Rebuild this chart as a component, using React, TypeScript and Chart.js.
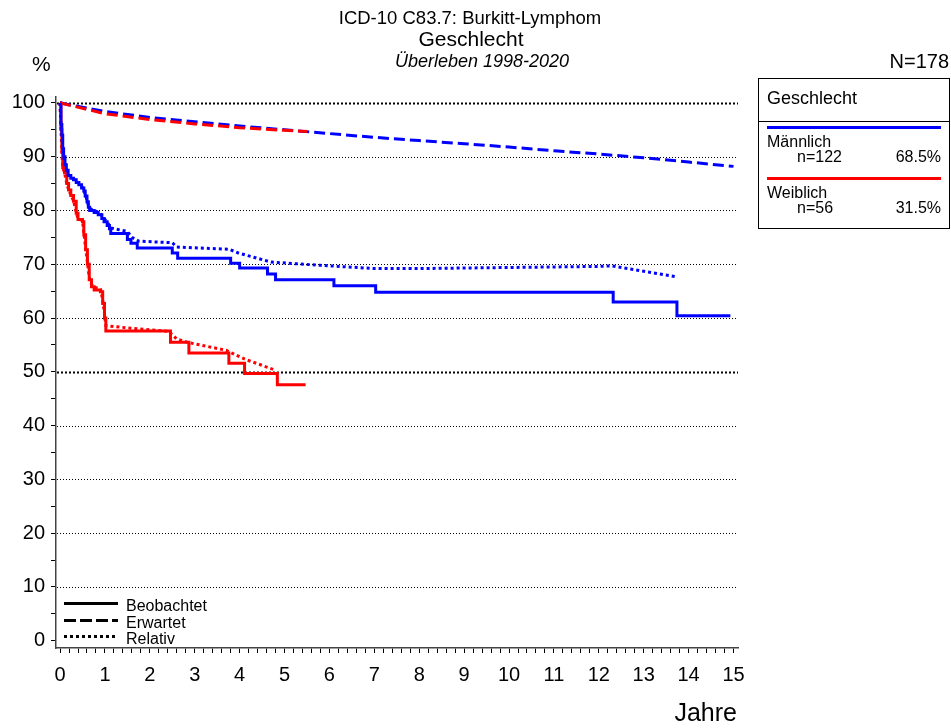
import React, { useEffect, useRef } from "react";
import { Chart, registerables } from "chart.js";

Chart.register(...registerables);

// ---- Data ----
const maleObsT = [0, 0.02, 0.04, 0.06, 0.08, 0.11, 0.14, 0.18, 0.24, 0.3, 0.36, 0.42, 0.48, 0.53, 0.56, 0.6, 0.63, 0.66, 0.76, 0.85, 0.93, 0.98, 1.05, 1.1, 1.13, 1.5, 1.58, 1.72, 2.5, 2.62, 3.8, 4.0, 4.62, 4.8, 6.1, 7.03, 12.32, 13.74, 14.93];
const maleObsS = [100, 96, 94, 91.5, 90, 88.5, 87.5, 86.5, 86, 85.7, 85.2, 84.8, 84.2, 83.6, 82.7, 81.6, 80.6, 80.0, 79.6, 79.2, 78.5, 77.9, 77.2, 76.6, 75.7, 74.6, 73.9, 73.0, 72.1, 71.1, 70.2, 69.3, 68.2, 67.1, 66.0, 64.8, 63.0, 60.4, 60.4];

const maleRelT = [0, 0.02, 0.04, 0.06, 0.08, 0.11, 0.14, 0.18, 0.24, 0.3, 0.36, 0.42, 0.48, 0.53, 0.56, 0.6, 0.63, 0.66, 0.76, 0.85, 0.93, 0.98, 1.05, 1.12, 1.2, 1.5, 1.6, 1.75, 2.5, 2.6, 3.76, 3.97, 4.7, 5.8, 7.0, 8.0, 10.0, 12.0, 12.3, 13.0, 13.7];
const maleRelS = [100, 96, 94, 91.5, 90, 88.5, 87.6, 86.6, 86.2, 85.9, 85.4, 85.0, 84.5, 83.9, 83.0, 82.0, 81.0, 80.4, 80.0, 79.7, 79.1, 78.5, 77.9, 76.8, 76.6, 76.1, 75.0, 74.3, 74.0, 73.2, 72.8, 72.1, 70.4, 69.8, 69.2, 69.2, 69.4, 69.6, 69.7, 68.7, 67.7];

const maleExpT = [0, 1, 2, 3, 4, 5, 6, 7, 8, 9, 10, 11, 12, 13, 14, 15];
const maleExpS = [100, 98.4, 97.3, 96.5, 95.7, 95.0, 94.3, 93.6, 93.0, 92.4, 91.8, 91.1, 90.5, 89.8, 89.0, 88.2];

const femObsT = [0, 0.02, 0.04, 0.06, 0.1, 0.15, 0.19, 0.24, 0.3, 0.36, 0.4, 0.5, 0.53, 0.57, 0.61, 0.65, 0.7, 0.76, 0.9, 0.95, 0.99, 1.02, 2.46, 2.87, 3.76, 4.11, 4.84, 5.47];
const femObsS = [100, 95, 91, 88, 87, 85, 83.8, 82.8, 81.7, 79.5, 78.3, 77.9, 75.5, 72.7, 70, 67.1, 65.8, 65.2, 64.9, 62.7, 60, 57.6, 55.5, 53.5, 51.6, 49.7, 47.6, 47.6];

const femRelT = [0, 0.02, 0.04, 0.06, 0.1, 0.15, 0.19, 0.24, 0.3, 0.36, 0.4, 0.5, 0.53, 0.57, 0.61, 0.65, 0.7, 0.76, 0.9, 0.95, 0.99, 1.02, 1.2, 2.42, 2.6, 2.87, 3.0, 3.7, 3.9, 4.13, 4.8];
const femRelS = [100, 95, 91, 88, 87, 85, 83.9, 82.9, 81.8, 79.7, 78.5, 78.1, 75.8, 73.0, 70.4, 67.6, 66.3, 65.7, 65.5, 63.3, 60.8, 58.6, 58.4, 57.5, 56.1, 55.4, 55.2, 54.0, 53.2, 52.3, 50.3];

const femExpT = [0, 1, 2, 3, 4, 5, 5.5];
const femExpS = [100, 98.0, 96.9, 96.1, 95.4, 94.9, 94.7];

const titleLines = ["ICD-10 C83.7: Burkitt-Lymphom", "Geschlecht", "Überleben 1998-2020"];
const groupNames = ["Männlich", "Weiblich"];
const groupN = ["n=122", "n=56"];
const groupPct = ["68.5%", "31.5%"];
const lineTypeLabels = ["Beobachtet", "Erwartet", "Relativ"];
const totalN = "N=178";
const legendTitle = "Geschlecht";

const BLUE = "#0000ff";
const RED = "#ff0000";
const FONT = "'Liberation Sans', Arial, sans-serif";

const zip = (t: number[], s: number[]) => t.map((x, i) => ({ x, y: s[i] }));

const decorPlugin = {
  id: "decor",
  beforeDatasetsDraw(chart: any) {
    const { ctx, chartArea, scales } = chart;
    const y = scales.y;
    ctx.save();
    ctx.strokeStyle = "#000";
    for (let v = 10; v <= 100; v += 10) {
      const py = Math.round(y.getPixelForValue(v)) + 0.5;
      const bold = v === 100 || v === 50;
      ctx.lineWidth = bold ? 2 : 1;
      ctx.setLineDash(bold ? [2, 2] : [1, 2]);
      ctx.beginPath();
      ctx.moveTo(chartArea.left + 1, py);
      ctx.lineTo(chartArea.right, py);
      ctx.stroke();
    }
    ctx.restore();
  },
  afterDraw(chart: any) {
    const { ctx } = chart;
    ctx.save();
    ctx.fillStyle = "#000";
    ctx.textBaseline = "middle";
    ctx.textAlign = "center";
    ctx.font = `18.5px ${FONT}`;
    ctx.fillText(titleLines[0], 470, 19);
    ctx.font = `21px ${FONT}`;
    ctx.fillText(titleLines[1], 471, 40);
    ctx.font = `italic 18px ${FONT}`;
    ctx.fillText(titleLines[2], 482, 62);

    ctx.textAlign = "left";
    ctx.font = `21px ${FONT}`;
    ctx.fillText("%", 32, 65);
    ctx.textAlign = "right";
    ctx.font = `20px ${FONT}`;
    ctx.fillText(totalN, 949, 62);
    ctx.font = `25px ${FONT}`;
    ctx.fillText("Jahre", 737, 714);

    // Group legend box
    ctx.strokeStyle = "#000";
    ctx.lineWidth = 1;
    ctx.setLineDash([]);
    ctx.strokeRect(758.5, 78.5, 191, 150);
    ctx.beginPath();
    ctx.moveTo(758, 121.5);
    ctx.lineTo(950, 121.5);
    ctx.stroke();
    ctx.textAlign = "left";
    ctx.font = `18px ${FONT}`;
    ctx.fillText(legendTitle, 767, 99);
    const colors = [BLUE, RED];
    const rows = [127.5, 178.5];
    rows.forEach((ry, i) => {
      ctx.strokeStyle = colors[i];
      ctx.lineWidth = 3;
      ctx.beginPath();
      ctx.moveTo(767, ry);
      ctx.lineTo(941, ry);
      ctx.stroke();
      ctx.fillStyle = "#000";
      ctx.font = `16px ${FONT}`;
      ctx.textAlign = "left";
      ctx.fillText(groupNames[i], 767, ry + 15);
      ctx.fillText(groupN[i], 797, ry + 30);
      ctx.textAlign = "right";
      ctx.fillText(groupPct[i], 941, ry + 30);
    });

    // Line-type legend
    const dashes = [[], [12, 4], [3, 3]];
    const ly = [603.5, 620.5, 636.5];
    ctx.strokeStyle = "#000";
    ctx.lineWidth = 3;
    ly.forEach((yy, i) => {
      ctx.setLineDash(dashes[i]);
      ctx.beginPath();
      ctx.moveTo(64, yy);
      ctx.lineTo(118, yy);
      ctx.stroke();
    });
    ctx.setLineDash([]);
    ctx.textAlign = "left";
    ctx.font = `16px ${FONT}`;
    ctx.fillText(lineTypeLabels[0], 126, 607);
    ctx.fillText(lineTypeLabels[1], 126, 624);
    ctx.fillText(lineTypeLabels[2], 126, 640);
    ctx.restore();
  },
};

export default function App() {
  const ref = useRef<HTMLCanvasElement | null>(null);
  useEffect(() => {
    document.body.style.margin = "0";
    const canvas = ref.current;
    if (!canvas) return;
    const common = { pointRadius: 0, borderWidth: 3, fill: false, tension: 0 };
    const chart = new Chart(canvas, {
      type: "line",
      data: {
        datasets: [
          { ...common, label: "Männlich Relativ", data: zip(maleRelT, maleRelS), borderColor: BLUE, borderDash: [3, 3] },
          { ...common, label: "Weiblich Relativ", data: zip(femRelT, femRelS), borderColor: RED, borderDash: [3, 3] },
          { ...common, label: "Weiblich Erwartet", data: zip(femExpT, femExpS), borderColor: RED, borderDash: [11, 5] },
          { ...common, label: "Männlich Erwartet", data: zip(maleExpT, maleExpS), borderColor: BLUE, borderDash: [11, 5] },
          { ...common, label: "Männlich Beobachtet", data: zip(maleObsT, maleObsS), borderColor: BLUE, stepped: "before" },
          { ...common, label: "Weiblich Beobachtet", data: zip(femObsT, femObsS), borderColor: RED, stepped: "before" },
        ],
      },
      options: {
        responsive: false,
        animation: false,
        devicePixelRatio: 1,
        layout: { padding: { top: 97, right: 213, left: 0, bottom: 0 } },
        plugins: { legend: { display: false }, tooltip: { enabled: false }, title: { display: false } },
        scales: {
          x: {
            type: "linear",
            min: -0.09,
            max: 15.1,
            afterFit: (s: any) => { s.height = 80; },
            grid: { display: true, drawOnChartArea: false, drawTicks: true, tickLength: 5, color: "#000", tickColor: "#000" },
            border: { display: true, color: "#444", width: 1.5 },
            ticks: {
              stepSize: 0.2,
              includeBounds: false,
              autoSkip: false,
              maxRotation: 0,
              padding: 10,
              color: "#000",
              font: { family: FONT, size: 20 },
              callback: (v: any) => {
                const r = Math.round(v * 1000) / 1000;
                return Number.isInteger(r) ? String(r) : "";
              },
            },
          },
          y: {
            type: "linear",
            min: -1.36,
            max: 101.1,
            afterFit: (s: any) => { s.width = 56; },
            grid: { display: true, drawOnChartArea: false, drawTicks: true, tickLength: 5, color: "#000", tickColor: "#000" },
            border: { display: true, color: "#444", width: 1.5 },
            ticks: {
              stepSize: 5,
              includeBounds: false,
              autoSkip: false,
              padding: 6,
              color: "#000",
              font: { family: FONT, size: 20 },
              callback: (v: any) => (Math.round(v) % 10 === 0 ? String(Math.round(v)) : ""),
            },
          },
        },
      },
      plugins: [decorPlugin],
    });
    return () => chart.destroy();
  }, []);
  return (
    <div style={{ width: 951, height: 728 }}>
      <canvas ref={ref} width={951} height={728} style={{ display: "block" }} />
    </div>
  );
}
